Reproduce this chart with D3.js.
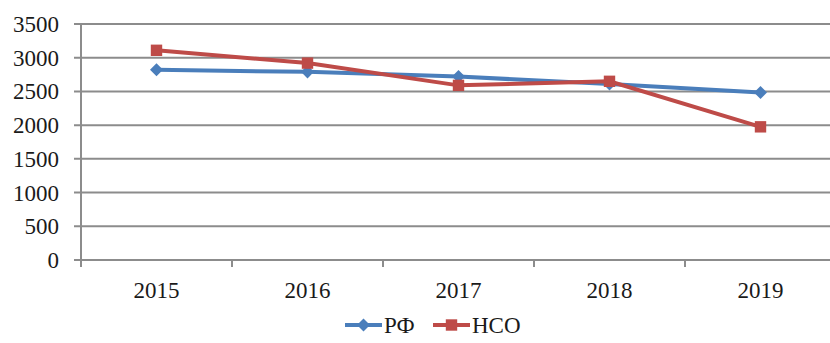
<!DOCTYPE html>
<html lang="ru">
<head>
    <meta charset="UTF-8">
    <title>РФ и НСО, 2015-2019</title>
    <script src="https://d3js.org/d3.v7.min.js"></script>
    <style>
        body {
            margin: 0;
            background: #fff;
            font-family: "Liberation Serif", "DejaVu Serif", serif;
        }
        .grid line {
            stroke: #8c8c8c;
            stroke-width: 2;
        }
        .tick-label {
            font-size: 23px;
            fill: #1a1a1a;
        }
        .line {
            fill: none;
            stroke-width: 4;
        }
    </style>
</head>
<body>
    <div id="chart"></div>
    <script>
        // data
        var years = ["2015", "2016", "2017", "2018", "2019"];
        var rf = [2820, 2790, 2720, 2610, 2485];
        var nso = [3110, 2920, 2590, 2650, 1975];
        var yTicks = [0, 500, 1000, 1500, 2000, 2500, 3000, 3500];
        var seriesNames = ["РФ", "НСО"];
        var colors = ["#4a7ebb", "#be4b48"];
        var fontFam = "'Liberation Serif', 'DejaVu Serif', serif";

        var W = 830, H = 343;
        var margin = {left: 81, top: 24, right: -6, bottom: 83};
        var w = W - margin.left - margin.right,
            h = H - margin.top - margin.bottom;

        var svg = d3.select("#chart").append("svg")
            .attr("width", W)
            .attr("height", H)
            .attr("font-family", fontFam)
            .style("font-family", fontFam);

        var g = svg.append("g")
            .attr("transform", "translate(" + margin.left + "," + margin.top + ")");

        var x = d3.scaleBand().domain(years).range([0, w]);
        var y = d3.scaleLinear().domain([0, 3500]).range([h, 0]);

        // horizontal gridlines + y ticks
        var grid = g.append("g").attr("class", "grid");
        grid.selectAll("line.h")
            .data(yTicks)
            .enter().append("line")
            .attr("class", "h")
            .attr("x1", -7)
            .attr("x2", w)
            .attr("y1", function(d) { return y(d); })
            .attr("y2", function(d) { return y(d); });

        // vertical axis line
        grid.append("line")
            .attr("x1", 0).attr("x2", 0)
            .attr("y1", y(3500)).attr("y2", h + 7);

        // category tick marks between bands
        grid.selectAll("line.v")
            .data(years.slice(1))
            .enter().append("line")
            .attr("class", "v")
            .attr("x1", function(d) { return x(d); })
            .attr("x2", function(d) { return x(d); })
            .attr("y1", h)
            .attr("y2", h + 7);

        // y labels
        g.selectAll("text.ylab")
            .data(yTicks)
            .enter().append("text")
            .attr("class", "tick-label ylab")
            .attr("x", -22)
            .attr("y", function(d) { return y(d); })
            .attr("dy", "0.35em")
            .attr("text-anchor", "end")
            .text(function(d) { return d; });

        // x labels
        g.selectAll("text.xlab")
            .data(years)
            .enter().append("text")
            .attr("class", "tick-label xlab")
            .attr("x", function(d) { return x(d) + x.bandwidth() / 2; })
            .attr("y", h + 38)
            .attr("text-anchor", "middle")
            .text(function(d) { return d; });

        var line = d3.line()
            .x(function(d, i) { return x(years[i]) + x.bandwidth() / 2; })
            .y(function(d) { return y(d); });

        // diamond = square turned 45 degrees
        var diamond = d3.symbol().type(d3.symbolSquare).size(85);
        var square = d3.symbol().type(d3.symbolSquare).size(130);
        var symbols = [diamond, square];
        var rot = [45, 0];

        [rf, nso].forEach(function(vals, k) {
            g.append("path")
                .datum(vals)
                .attr("class", "line")
                .attr("stroke", colors[k])
                .attr("d", line);
            g.selectAll("path.m" + k)
                .data(vals)
                .enter().append("path")
                .attr("class", "m" + k)
                .attr("fill", colors[k])
                .attr("transform", function(d, i) {
                    return "translate(" + (x(years[i]) + x.bandwidth() / 2) + "," + y(d) + ") rotate(" + rot[k] + ")";
                })
                .attr("d", symbols[k]);
        });

        // legend
        var legendX = [345, 433], legendY = 325;
        seriesNames.forEach(function(name, k) {
            var lg = svg.append("g")
                .attr("transform", "translate(" + legendX[k] + "," + legendY + ")");
            lg.append("line")
                .attr("x1", 0).attr("x2", 37)
                .attr("y1", 0).attr("y2", 0)
                .attr("stroke", colors[k])
                .attr("stroke-width", 4);
            lg.append("path")
                .attr("transform", "translate(18.5,0) rotate(" + rot[k] + ")")
                .attr("fill", colors[k])
                .attr("d", symbols[k]);
            lg.append("text")
                .attr("class", "tick-label")
                .attr("x", 39)
                .attr("y", 0)
                .attr("dy", "0.35em")
                .text(name);
        });
    </script>
</body>
</html>
